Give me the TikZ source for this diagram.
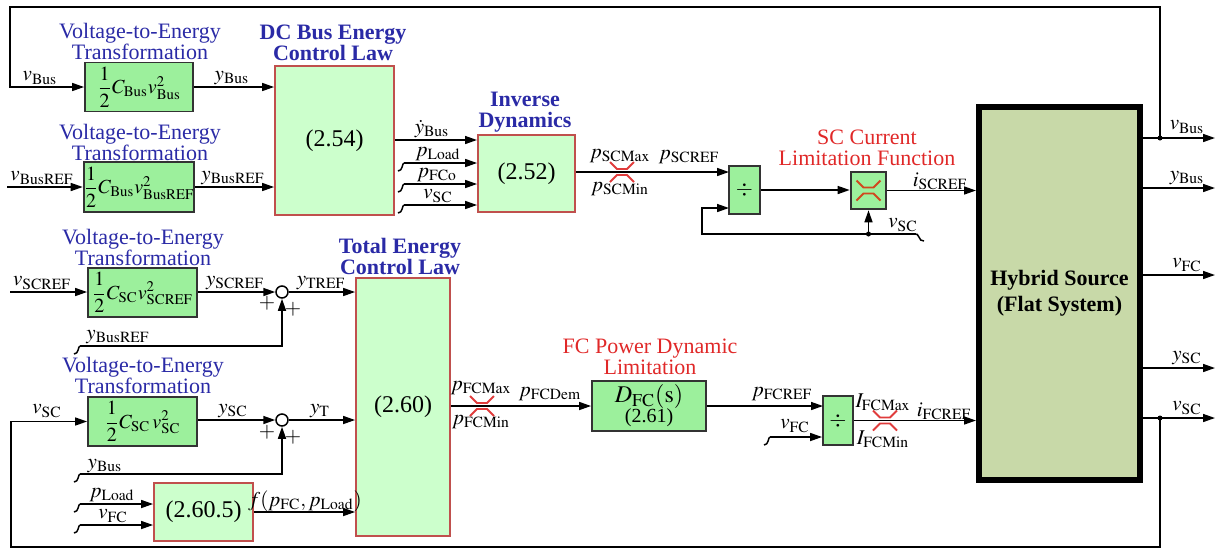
\documentclass[tikz,border=0pt]{standalone}
\usepackage{amsmath}
\usepackage{mathptmx}
\usepackage{fontspec}
\setmainfont{Liberation Serif}
\usetikzlibrary{positioning, arrows.meta, calc}
\definecolor{color_title}{HTML}{2A2AA6}
\definecolor{color_warn}{HTML}{E02828}
\definecolor{color_conv}{HTML}{9CF09C}
\definecolor{color_law}{HTML}{CCFFCC}
\definecolor{color_law_edge}{HTML}{C0504D}
\definecolor{color_plant}{HTML}{C8D9A8}
\definecolor{color_sat}{HTML}{E03C3C}
\definecolor{color_sat_dark}{HTML}{D0481E}
\definecolor{color_edge}{HTML}{333333}
\tikzset{
  conv_box/.style={draw=color_edge, line width=0.9pt, fill=color_conv, inner sep=0pt, font=\fontsize{10}{10}\selectfont},
  law_box/.style={draw=color_law_edge, line width=0.9pt, fill=color_law, inner sep=0pt, font=\fontsize{12}{12}\selectfont},
  plant_box/.style={draw=black, line width=3pt, fill=color_plant, align=center, font=\bfseries\fontsize{11}{13}\selectfont},
  title_blue/.style={text=color_title, align=center, inner sep=0pt, font=\fontsize{11}{10.5}\selectfont},
  title_bold/.style={title_blue, font=\bfseries\fontsize{11}{10.5}\selectfont},
  title_red/.style={title_blue, text=color_warn},
  sig_label/.style={inner sep=0pt, font=\fontsize{10.5}{10.5}\selectfont},
  sig_line/.style={line width=0.75pt},
  sig_arrow/.style={sig_line, -{Triangle[length=6pt, width=4pt]}},
  sum_node/.style={circle, draw, line width=0.75pt, fill=white, minimum size=6pt, inner sep=0pt},
  join_dot/.style={circle, fill, inner sep=0pt, minimum size=2.5pt},
  sat_line/.style={color_sat, line width=0.9pt},
  sat_mark/.pic={
    \draw[sat_line] (-12,-10) -- (-5,-3) -- (5,-3) -- (12,-10);
    \draw[sat_line] (-12,10) -- (-5,3) -- (5,3) -- (12,10);
  },
  brk_mark/.pic={\draw[sig_line] (-6,8) .. controls (-1,8) and (-2,0) .. (0,0);},
  brk_end/.pic={\draw[sig_line] (-2,0) .. controls (4,-2) and (2,8) .. (8,7);},
}
\begin{document}
\begin{tikzpicture}[x=0.5pt, y=-0.5pt, font=\fontsize{11}{11}\selectfont]
  \useasboundingbox (0,0) rectangle (1222,548);
  % DC bus energy loop
  \node[title_blue] (title_conv_bus) at (140,41) {Voltage-to-Energy\\Transformation};
  \node[conv_box, minimum width=54pt, minimum height=24.5pt] (conv_bus) at (139,87) {$\dfrac{1}{2}C_{\mathrm{Bus}}v_{\mathrm{Bus}}^{2}$};
  \node[title_blue] (title_conv_busref) at (140,142) {Voltage-to-Energy\\Transformation};
  \node[conv_box, minimum width=54pt, minimum height=25pt] (conv_busref) at (139,187) {$\dfrac{1}{2}C_{\mathrm{Bus}}v_{\mathrm{BusREF}}^{2}$};
  \node[title_bold] (title_law_bus) at (333,43) {DC Bus Energy\\Control Law};
  \node[law_box, minimum width=59.5pt, minimum height=74.5pt] (law_bus) at (334.5,140.5) {(2.54)};
  \node[title_bold] (title_inv_dyn) at (525,112) {Inverse\\Dynamics};
  \node[law_box, minimum width=48.5pt, minimum height=38.5pt] (inv_dyn) at (526.5,173.5) {(2.52)};
  \node[conv_box, font=\fontsize{11}{11}\selectfont, minimum width=15.5pt, minimum height=24pt] (div_sc) at (744.5,190) {$\div$};
  \node[title_red] (title_lim_sc) at (867,148) {SC Current\\Limitation Function};
  \node[conv_box, line width=1.3pt, minimum width=17.5pt, minimum height=18.5pt] (lim_sc) at (868.5,190.5) {};
  \pic[sat_line/.style={color_sat_dark, line width=0.9pt}] at (lim_sc) {sat_mark};
  \node[plant_box, minimum width=80.5pt, minimum height=186.5pt] (plant) at (1059.5,293.5) {Hybrid Source\\(Flat System)};

  % total energy loop
  \node[title_blue] (title_conv_scref) at (143,247) {Voltage-to-Energy\\Transformation};
  \node[conv_box, minimum width=54.5pt, minimum height=24.5pt] (conv_scref) at (142.5,292.5) {$\dfrac{1}{2}C_{\mathrm{SC}}v_{\mathrm{SCREF}}^{2}$};
  \node[sum_node] (sum_tref) at (282,292) {};
  \node[title_blue] (title_conv_sc) at (143,375) {Voltage-to-Energy\\Transformation};
  \node[conv_box, minimum width=54.5pt, minimum height=24.5pt] (conv_sc) at (142.5,421.5) {$\dfrac{1}{2}C_{\mathrm{SC}}\,v_{\mathrm{SC}}^{2}$};
  \node[sum_node] (sum_t) at (282,420) {};
  \node[law_box, minimum width=49.5pt, minimum height=29pt] (aux_fc) at (203.5,512) {(2.60.5)};
  \node[title_bold] (title_law_total) at (400,256) {Total Energy\\Control Law};
  \node[law_box, minimum width=47pt, minimum height=129pt] (law_total) at (403,407) {(2.60)};
  \node[title_red] (title_dyn_fc) at (650,357) {FC Power Dynamic\\Limitation};
  \node[conv_box, minimum width=57pt, minimum height=25pt, align=center, font=\fontsize{12}{10}\selectfont] (dyn_fc) at (649,406) {$D_{\mathrm{FC}}(\mathrm{s})$\\{\fontsize{10}{10}\selectfont(2.61)}};
  \node[conv_box, font=\fontsize{11}{11}\selectfont, minimum width=15pt, minimum height=24.5pt] (div_fc) at (838,420.5) {$\div$};

  % ports, taps and breaks
  \coordinate (loop_top_r) at (1160,7);
  \coordinate (loop_top_l) at (10,7);
  \coordinate (tap_vbus) at (1160,138);
  \coordinate (loop_bot_r) at (1160,547);
  \coordinate (loop_bot_l) at (11,547);
  \coordinate (tap_vsc) at (1160,418);
  \coordinate (src_vbusref) at (7,187);
  \coordinate (src_vscref) at (10,292);
  \coordinate (port_ybusdot) at (477,140);
  \coordinate (brk_pload) at (404,163);
  \coordinate (brk_pfco) at (404,184);
  \coordinate (brk_vsc_inv) at (404,205);
  \coordinate (div_sc_in1) at (729,172);
  \coordinate (div_sc_in2) at (729,208);
  \coordinate (fb_sc_l) at (702,234);
  \coordinate (tap_vsc_lim) at (868.5,234);
  \coordinate (brk_vsc_lim) at (916,234);
  \coordinate (brk_busref) at (80,346);
  \coordinate (brk_ybus) at (80,474);
  \coordinate (brk_pload_aux) at (80,504);
  \coordinate (brk_vfc_aux) at (80,525);
  \coordinate (div_fc_in1) at (823,406);
  \coordinate (brk_vfc_div) at (770,437);
  \coordinate (out_vbus) at (1215,138);
  \coordinate (out_ybus) at (1215,188);
  \coordinate (out_vfc) at (1215,275);
  \coordinate (out_ysc) at (1215,368);
  \coordinate (out_vsc) at (1215,418);

  % connectors, upper part
  \draw[sig_arrow] (tap_vbus) -- (loop_top_r) -- (loop_top_l) |- (conv_bus.west);
  \draw[sig_arrow] (conv_bus.east) -- (conv_bus.east -| law_bus.west);
  \draw[sig_arrow] (src_vbusref) -- (conv_busref.west);
  \draw[sig_arrow] (conv_busref.east) -- (conv_busref.east -| law_bus.west);
  \draw[sig_arrow] (law_bus.east |- port_ybusdot) -- (port_ybusdot);
  \foreach \brk in {brk_pload, brk_pfco, brk_vsc_inv} {
    \draw[sig_arrow] (\brk) -- (inv_dyn.west |- \brk);
    \pic at (\brk) {brk_mark};
  }
  \draw[sig_arrow] (inv_dyn.east |- div_sc_in1) -- (div_sc_in1);
  \pic at (622,172) {sat_mark};
  \draw[sig_arrow] (brk_vsc_lim) -- (fb_sc_l) |- (div_sc_in2);
  \pic at (brk_vsc_lim) {brk_end};
  \draw[sig_arrow] (tap_vsc_lim) -- (lim_sc.south);
  \node[join_dot] (dot_vsc_lim) at (tap_vsc_lim) {};
  \draw[sig_arrow] (div_sc.east) -- (div_sc.east -| lim_sc.west);
  \draw[sig_arrow] (lim_sc.east) -- (lim_sc.east -| plant.west);

  % plant outputs
  \foreach \out in {out_vbus, out_ybus, out_vfc, out_ysc, out_vsc}
    \draw[sig_arrow] (plant.east |- \out) -- (\out);
  \node[join_dot] (dot_vbus) at (tap_vbus) {};
  \node[join_dot] (dot_vsc) at (tap_vsc) {};

  % connectors, lower part
  \draw[sig_arrow] (src_vscref) -- (src_vscref -| conv_scref.west);
  \draw[sig_arrow] (conv_scref.east |- sum_tref) -- (sum_tref.west);
  \draw[sig_arrow] (sum_tref.east) -- (sum_tref.east -| law_total.west);
  \draw[sig_arrow] (brk_busref) -| (sum_tref.south);
  \pic at (brk_busref) {brk_mark};
  \draw[sig_arrow] (tap_vsc) -- (loop_bot_r) -- (loop_bot_l) |- (conv_sc.west);
  \draw[sig_arrow] (conv_sc.east |- sum_t) -- (sum_t.west);
  \draw[sig_arrow] (sum_t.east) -- (sum_t.east -| law_total.west);
  \draw[sig_arrow] (brk_ybus) -| (sum_t.south);
  \pic at (brk_ybus) {brk_mark};
  \foreach \brk in {brk_pload_aux, brk_vfc_aux} {
    \draw[sig_arrow] (\brk) -- (aux_fc.west |- \brk);
    \pic at (\brk) {brk_mark};
  }
  \draw[sig_arrow] (aux_fc.east) -- (aux_fc.east -| law_total.west);
  \draw[sig_arrow] (law_total.east |- dyn_fc) -- (dyn_fc.west);
  \pic at (482,406) {sat_mark};
  \draw[sig_arrow] (dyn_fc.east) -- (div_fc_in1);
  \draw[sig_arrow] (brk_vfc_div) -- (div_fc.west |- brk_vfc_div);
  \pic at (brk_vfc_div) {brk_mark};
  \draw[sig_arrow] (div_fc.east) -- (div_fc.east -| plant.west);
  \pic at (885,420.5) {sat_mark};

  % signal labels
  \node[sig_label] (lbl_vbus) at (40,78) {$v_{\mathrm{Bus}}$};
  \node[sig_label] (lbl_ybus) at (232,78) {$y_{\mathrm{Bus}}$};
  \node[sig_label] (lbl_vbusref) at (42,178) {$v_{\mathrm{BusREF}}$};
  \node[sig_label] (lbl_ybusref) at (233,178) {$y_{\mathrm{BusREF}}$};
  \node[sig_label] (lbl_ybusdot) at (432,129) {$\dot{y}_{\mathrm{Bus}}$};
  \node[sig_label] (lbl_pload) at (438,154) {$p_{\mathrm{Load}}$};
  \node[sig_label] (lbl_pfco) at (437,175) {$p_{\mathrm{FCo}}$};
  \node[sig_label] (lbl_vsc_inv) at (438,196) {$v_{\mathrm{SC}}$};
  \node[sig_label] (lbl_pscmax) at (620,156) {$p_{\mathrm{SCMax}}$};
  \node[sig_label] (lbl_pscmin) at (620,189) {$p_{\mathrm{SCMin}}$};
  \node[sig_label] (lbl_pscref) at (689,157) {$p_{\mathrm{SCREF}}$};
  \node[sig_label] (lbl_vsc_lim) at (903,225) {$v_{\mathrm{SC}}$};
  \node[sig_label] (lbl_iscref) at (940,181) {$i_{\mathrm{SCREF}}$};
  \node[sig_label] (lbl_out_vbus) at (1187,127) {$v_{\mathrm{Bus}}$};
  \node[sig_label] (lbl_out_ybus) at (1187,178) {$y_{\mathrm{Bus}}$};
  \node[sig_label] (lbl_out_vfc) at (1187,265) {$v_{\mathrm{FC}}$};
  \node[sig_label] (lbl_out_ysc) at (1187,358) {$y_{\mathrm{SC}}$};
  \node[sig_label] (lbl_out_vsc) at (1187,408) {$v_{\mathrm{SC}}$};
  \node[sig_label] (lbl_vscref) at (42,283) {$v_{\mathrm{SCREF}}$};
  \node[sig_label] (lbl_yscref) at (235,283) {$y_{\mathrm{SCREF}}$};
  \node[sig_label] (lbl_ytref) at (321,283) {$y_{\mathrm{TREF}}$};
  \node[sig_label] (lbl_ybusref_sum) at (118,337) {$y_{\mathrm{BusREF}}$};
  \node[sig_label] (lbl_vsc) at (47,411) {$v_{\mathrm{SC}}$};
  \node[sig_label] (lbl_ysc) at (233,411) {$y_{\mathrm{SC}}$};
  \node[sig_label] (lbl_yt) at (320,411) {$y_{\mathrm{T}}$};
  \node[sig_label] (lbl_ybus_sum) at (105,466) {$y_{\mathrm{Bus}}$};
  \node[sig_label] (lbl_pload_aux) at (112,495) {$p_{\mathrm{Load}}$};
  \node[sig_label] (lbl_vfc_aux) at (113,516) {$v_{\mathrm{FC}}$};
  \node[sig_label] (lbl_f) at (305,501) {$f(p_{\mathrm{FC}},p_{\mathrm{Load}})$};
  \node[sig_label] (lbl_pfcmax) at (481,388) {$p_{\mathrm{FCMax}}$};
  \node[sig_label] (lbl_pfcmin) at (481,422) {$p_{\mathrm{FCMin}}$};
  \node[sig_label] (lbl_pfcdem) at (550,394) {$p_{\mathrm{FCDem}}$};
  \node[sig_label] (lbl_pfcref) at (782,394) {$p_{\mathrm{FCREF}}$};
  \node[sig_label] (lbl_vfc_div) at (795,426) {$v_{\mathrm{FC}}$};
  \node[sig_label] (lbl_ifcmax) at (883,402) {$I_{\mathrm{FCMax}}$};
  \node[sig_label] (lbl_ifcmin) at (883,439) {$I_{\mathrm{FCMin}}$};
  \node[sig_label] (lbl_ifcref) at (944,411) {$i_{\mathrm{FCREF}}$};
  % summing signs
  \node[sig_label] (sign_tref_l) at (267,303) {$+$};
  \node[sig_label] (sign_tref_r) at (293,309) {$+$};
  \node[sig_label] (sign_t_l) at (267,432) {$+$};
  \node[sig_label] (sign_t_r) at (293,437) {$+$};
\end{tikzpicture}
\end{document}
